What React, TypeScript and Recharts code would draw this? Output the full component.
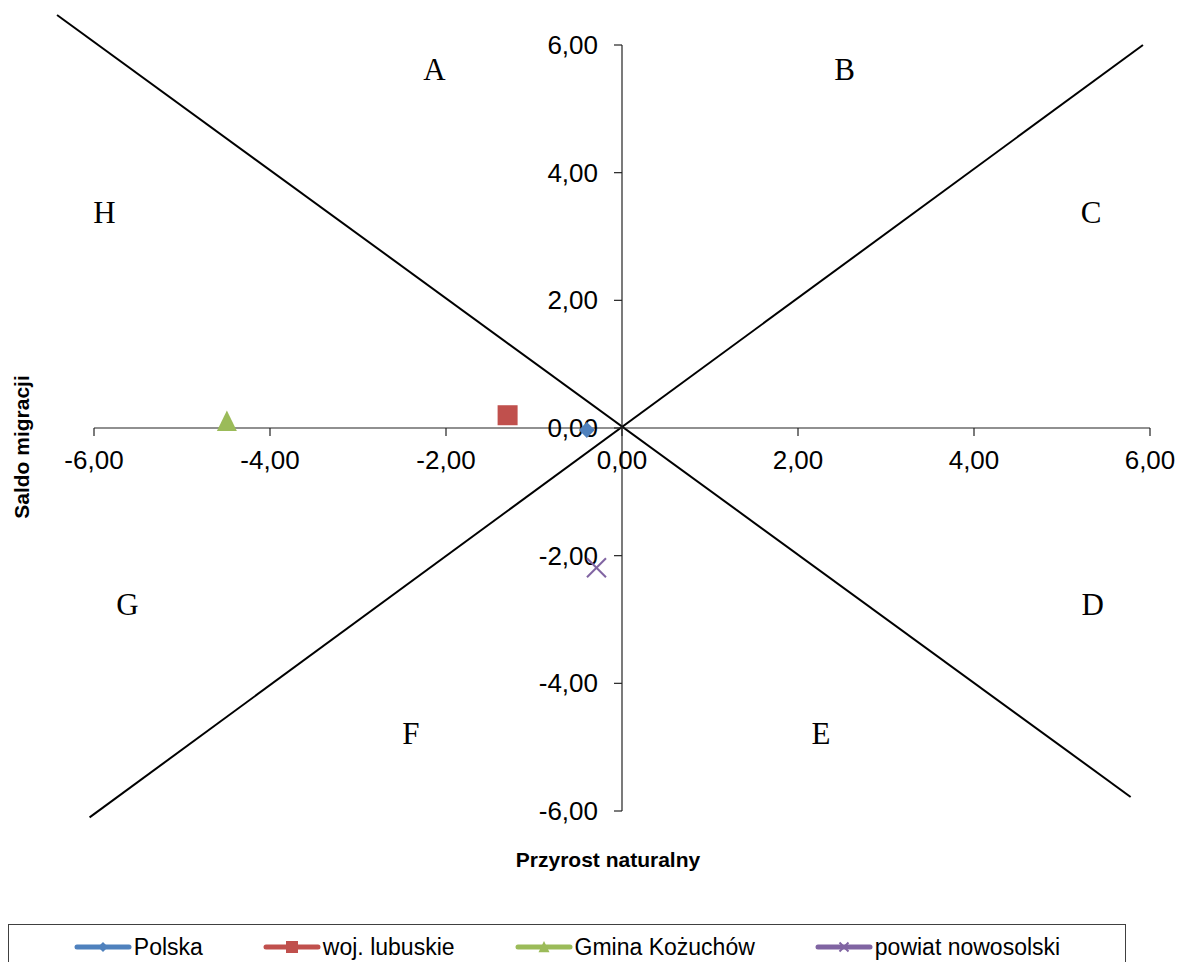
import React from "react";
import { ScatterChart, Scatter, XAxis, YAxis, ReferenceLine, ReferenceDot, Legend } from "recharts";

// series: one point per area
const seriesNames = ["Polska", "woj. lubuskie", "Gmina Kożuchów", "powiat nowosolski"];
const przyrostNaturalny = [-0.4, -1.3, -4.49, -0.29];
const saldoMigracji = [-0.03, 0.2, 0.1, -2.19];
const seriesColors = ["#4F81BD", "#C0504D", "#9BBB59", "#8064A2"];
const seriesMarkers = ["diamond", "square", "triangle", "cross"];

const axisTicks = [-6, -4, -2, 0, 2, 4, 6];

// quadrant letters (text boxes placed in data space)
const quadrantNames = ["A", "B", "C", "D", "E", "F", "G", "H"];
const quadrantX = [-2.13, 2.53, 5.33, 5.35, 2.26, -2.4, -5.62, -5.88];
const quadrantY = [5.62, 5.62, 3.38, -2.76, -4.78, -4.78, -2.76, 3.38];

// the two diagonals through the origin
const risingLine = [
	{ x: -6.05, y: -6.1 },
	{ x: 5.92, y: 6.0 },
];
const fallingLine = [
	{ x: -6.42, y: 6.47 },
	{ x: 5.78, y: -5.78 },
];

const xTitle = "Przyrost naturalny";
const yTitle = "Saldo migracji";

const SANS = '"Liberation Sans", Arial, sans-serif';
const SERIF = '"Liberation Serif", "Times New Roman", serif';

const fmt = (v: number) => v.toFixed(2).replace(".", ",");

const Marker = ({ kind, cx, cy, color, s }: { kind: string; cx: number; cy: number; color: string; s: number }) => {
	if (kind === "diamond") {
		return <polygon points={`${cx},${cy - s} ${cx + s},${cy} ${cx},${cy + s} ${cx - s},${cy}`} fill={color} />;
	}
	if (kind === "square") {
		return <rect x={cx - s} y={cy - s} width={2 * s} height={2 * s} fill={color} />;
	}
	if (kind === "triangle") {
		return <polygon points={`${cx},${cy - s * 1.1} ${cx + s},${cy + s * 0.95} ${cx - s},${cy + s * 0.95}`} fill={color} />;
	}
	return (
		<g stroke={color} strokeWidth={2}>
			<line x1={cx - s} y1={cy - s} x2={cx + s} y2={cy + s} />
			<line x1={cx - s} y1={cy + s} x2={cx + s} y2={cy - s} />
		</g>
	);
};

const markerSize = [8, 10, 10, 9.5];
const legendMarkerSize = [5, 6, 5.5, 4.5];

const LegendBox = () => (
	<div
		style={{
			boxSizing: "border-box",
			width: 1118,
			height: 46,
			border: "1px solid #404040",
			display: "flex",
			justifyContent: "center",
			alignItems: "center",
			gap: 60,
			fontFamily: SANS,
			fontSize: 23,
			color: "#000",
			background: "#fff",
		}}
	>
		{seriesNames.map((name, i) => (
			<div key={name} style={{ display: "flex", alignItems: "center" }}>
				<svg width={58} height={20}>
					<line x1={3} y1={10} x2={55} y2={10} stroke={seriesColors[i]} strokeWidth={5} strokeLinecap="round" />
					<Marker kind={seriesMarkers[i]} cx={29} cy={10} color={seriesColors[i]} s={legendMarkerSize[i]} />
				</svg>
				<span style={{ marginLeft: 2 }}>{name}</span>
			</div>
		))}
	</div>
);

const App = () => {
	return (
		<div style={{ position: "absolute", left: 0, top: 0, width: 1181, height: 962, background: "#fff" }}>
			<ScatterChart width={1181} height={962} margin={{ top: 45, right: 31, bottom: 151, left: 94 }}>
				<XAxis type="number" dataKey="x" domain={[-6, 6]} allowDataOverflow hide />
				<YAxis type="number" dataKey="y" domain={[-6, 6]} allowDataOverflow hide />

				{/* diagonals */}
				<ReferenceLine segment={risingLine} stroke="#000" strokeWidth={2} ifOverflow="visible" />
				<ReferenceLine segment={fallingLine} stroke="#000" strokeWidth={2} ifOverflow="visible" />

				{/* axes crossing at the origin */}
				<ReferenceLine segment={[{ x: axisTicks[0], y: 0 }, { x: axisTicks[axisTicks.length - 1], y: 0 }]} stroke="#222" strokeWidth={1.2} ifOverflow="visible" />
				<ReferenceLine segment={[{ x: 0, y: axisTicks[0] }, { x: 0, y: axisTicks[axisTicks.length - 1] }]} stroke="#222" strokeWidth={1.2} ifOverflow="visible" />

				{axisTicks.map((v) => (
					<ReferenceDot
						key={`xt${v}`}
						x={v}
						y={0}
						r={0}
						ifOverflow="visible"
						shape={(p: any) => (
							<g>
								<line x1={p.cx} y1={p.cy} x2={p.cx} y2={p.cy + 8} stroke="#222" strokeWidth={1.2} />
								<text x={p.cx} y={p.cy + 41} textAnchor="middle" fill="#000" fontSize={26} fontFamily={SANS}>
									{fmt(v)}
								</text>
							</g>
						)}
					/>
				))}
				{axisTicks.map((v) => (
					<ReferenceDot
						key={`yt${v}`}
						x={0}
						y={v}
						r={0}
						ifOverflow="visible"
						shape={(p: any) => (
							<g>
								<line x1={p.cx} y1={p.cy} x2={p.cx - 8} y2={p.cy} stroke="#222" strokeWidth={1.2} />
								<text x={p.cx - 24} y={p.cy + 9} textAnchor="end" fill="#000" fontSize={26} fontFamily={SANS}>
									{fmt(v)}
								</text>
							</g>
						)}
					/>
				))}

				{/* axis titles, anchored to the ends of the axes */}
				<ReferenceDot
					x={0}
					y={axisTicks[0]}
					r={0}
					ifOverflow="visible"
					shape={(p: any) => (
						<text x={p.cx - 14} y={p.cy + 56} textAnchor="middle" fill="#000" fontSize={21} fontWeight="bold" fontFamily={SANS}>
							{xTitle}
						</text>
					)}
				/>
				<ReferenceDot
					x={axisTicks[0]}
					y={0}
					r={0}
					ifOverflow="visible"
					shape={(p: any) => (
						<text
							transform={`translate(${p.cx - 65}, ${p.cy + 19}) rotate(-90)`}
							textAnchor="middle"
							fill="#000"
							fontSize={21}
							fontWeight="bold"
							fontFamily={SANS}
						>
							{yTitle}
						</text>
					)}
				/>

				{quadrantNames.map((q, i) => (
					<ReferenceDot
						key={q}
						x={quadrantX[i]}
						y={quadrantY[i]}
						r={0}
						ifOverflow="visible"
						shape={(p: any) => (
							<text x={p.cx} y={p.cy + 11} textAnchor="middle" fill="#000" fontSize={31} fontFamily={SERIF}>
								{q}
							</text>
						)}
					/>
				))}

				{seriesNames.map((name, i) => (
					<Scatter
						key={name}
						name={name}
						data={[{ x: przyrostNaturalny[i], y: saldoMigracji[i] }]}
						fill={seriesColors[i]}
						isAnimationActive={false}
						shape={(p: any) => (
							<Marker kind={seriesMarkers[i]} cx={p.cx} cy={p.cy} color={seriesColors[i]} s={markerSize[i]} />
						)}
					/>
				))}

				<Legend
					layout="horizontal"
					verticalAlign="middle"
					align="center"
					wrapperStyle={{ left: 8, top: 924, width: 1118, height: 46 }}
					content={<LegendBox />}
				/>
			</ScatterChart>
		</div>
	);
};

export default App;
